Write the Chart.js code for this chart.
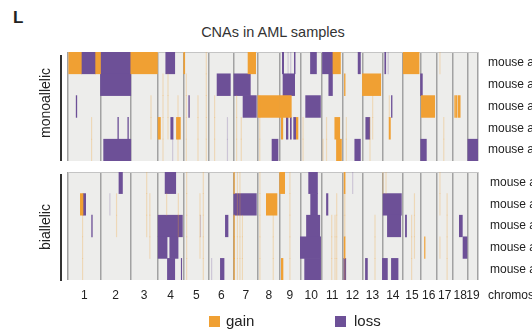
<!DOCTYPE html>
<html>
<head>
<meta charset="utf-8">
<script src="https://cdn.jsdelivr.net/npm/chart.js@4.4.1/dist/chart.umd.min.js"></script>
<style>
  body { margin: 0; width: 532px; height: 333px; overflow: hidden; background: #fff; position: relative;
         font-family: "Liberation Sans", Arial, sans-serif; color: #222; }
  canvas, .txt { position: absolute; }
  .side { width: 120px; height: 18px; line-height: 18px; text-align: center; font-size: 14px; transform: rotate(-90deg); }
  .bracket { position: absolute; left: 60px; width: 1.5px; background: #333; }
  .swatch { position: absolute; width: 11px; height: 11px; }
</style>
</head>
<body>
<div class="txt" style="left:13px;top:8px;font-size:17px;font-weight:bold">L</div>
<div class="txt" style="left:68px;top:24px;width:410px;text-align:center;font-size:14.5px;color:#333">CNAs in AML samples</div>

<canvas id="mono" width="532" height="166" style="left:0;top:0"></canvas>
<canvas id="bi" width="532" height="140" style="left:0;top:166px"></canvas>

<div class="txt side" style="left:-15px;top:94px">monoallelic</div>
<div class="txt side" style="left:-15px;top:218px">biallelic</div>
<div class="bracket" style="top:55px;height:106px"></div>
<div class="bracket" style="top:174px;height:107px"></div>

<div class="txt" style="left:488px;top:288px;font-size:12px">chromosome</div>

<div class="swatch" style="left:209px;top:316px;background:#f0a033"></div>
<div class="txt" style="left:226px;top:312px;font-size:15px">gain</div>
<div class="swatch" style="left:335px;top:316px;background:#6d5097"></div>
<div class="txt" style="left:354px;top:312px;font-size:15px">loss</div>

<script>
// chromosomes and their lengths (Mb)
const chromosomes = ['1','2','3','4','5','6','7','8','9','10','11','12','13','14','15','16','17','18','19'];
const chromLengths = [195,182,160,157,152,150,145,129,125,131,122,120,120,125,104,98,95,91,61];

const monoSamples = ['mouse aml 1','mouse aml 2','mouse aml 3','mouse aml 4','mouse aml 5'];
const biSamples = ['mouse aml 6','mouse aml 7','mouse aml 8','mouse aml 9','mouse aml 10'];

// segments: [sample, chromosome, start Mb, end Mb]
const monoGain = [
  [0,1,0,80],[0,1,166,195],[0,3,0,160],[0,5,1,7],[0,7,85,131],[0,11,65,110],[0,15,0,95],
  [1,12,12,16],[1,13,0,110],
  [2,8,0,129],[2,9,0,71],[2,16,5,85],[2,18,12,17],[2,18,22,25],[2,18,32,45],
  [3,4,4,18],[3,4,114,138],[3,9,11,20],[3,9,101,111],[3,11,76,106],[3,14,40,48],
  [4,11,86,116]
];
const monoLoss = [
  [0,1,80,166],[0,2,0,182],[0,4,50,104],[0,9,17,25],[0,9,89,94],[0,10,61,97],[0,11,2,65],[0,12,94,108],[0,14,14,20],
  [1,2,0,182],[1,6,49,129],[1,7,0,99],[1,9,21,91],[1,11,40,62],[1,16,0,11],
  [2,1,49,53],[2,5,31,35],[2,7,55,135],[2,10,32,121],[2,14,54,58],
  [3,2,104,108],[3,2,164,168],[3,4,80,94],[3,9,41,51],[3,9,65,71],[3,9,85,97],[3,13,20,44],
  [4,2,19,182],[4,8,84,120],[4,12,74,108],[4,16,1,35],[4,19,0,61]
];
const biGain = [
  [0,7,0,3],[0,9,1,31],[0,12,10,16],
  [1,1,74,90],[1,8,50,114],
  [2,7,0,3],
  [3,7,0,3],[3,12,10,16],[3,16,24,27],
  [4,7,0,3],[4,9,11,21]
];
const biLoss = [
  [0,2,111,132],[0,4,46,110],[0,10,50,103],
  [1,1,90,106],[1,7,0,135],[1,10,62,103],[1,11,26,35],[1,14,4,114],
  [2,1,142,146],[2,4,4,150],[2,6,99,115],[2,10,37,117],[2,14,30,110],[2,15,13,20],[2,18,40,58],
  [3,4,4,58],[3,4,74,124],[3,10,0,122],[3,18,62,86],
  [4,4,60,104],[4,4,143,146],[4,6,69,91],[4,10,26,122],[4,12,8,20],[4,13,18,30],[4,14,0,30],[4,14,54,94]
];

// small faint calls: [chromosome, start Mb, end Mb, first sample, last sample]
const monoFaintGain = [
  [1,140,143,3,4],[3,120,123,2,3],[4,32,35,1,4],[4,62,65,1,3],[4,122,125,2,4],[5,15,18,1,4],[5,85,88,2,4],
  [5,135,138,0,4],[6,33,36,2,4],[7,15,18,2,4],[7,43,46,3,4],[8,9,12,2,4],[10,15,18,3,4],[11,4,7,4,4],
  [11,25,28,3,4],[12,22,25,3,4],[13,44,47,3,4],[13,60,63,2,3],[14,40,43,2,2],[17,17,20,0,0],[17,40,43,3,4]
];
const monoFaintLoss = [[4,90,93,4,4],[6,110,113,3,4],[9,50,53,0,0],[9,66,69,0,0],[14,33,36,0,0]];
const biFaintGain = [
  [1,86,89,2,4],[2,95,98,1,2],[3,94,97,0,2],[3,113,116,1,3],[4,54,57,1,1],[4,124,127,1,2],[5,17,20,0,4],
  [5,97,100,1,3],[5,117,120,0,4],[7,20,23,0,4],[7,35,38,0,4],[7,50,53,2,4],[8,10,13,0,4],[8,90,93,2,4],
  [9,61,64,0,4],[11,56,59,2,4],[11,76,79,2,4],[11,86,89,1,4],[12,10,16,1,2],[12,10,16,4,4],[13,74,77,2,4],
  [14,2,5,0,0],[14,20,23,0,0],[15,49,52,2,4],[15,66,69,1,3],[17,17,20,0,1],[17,17,20,3,3],[17,60,63,1,4]
];
const biFaintLoss = [[2,55,58,1,1],[5,100,103,2,2],[6,15,18,4,4],[12,60,63,0,0]];

const GAIN = '#f0a033';
const LOSS = '#6d5097';

// genome coordinates
const chromStart = [];
let genomeLength = 0;
chromLengths.forEach(len => { chromStart.push(genomeLength); genomeLength += len; });
const boundaries = chromStart.concat([genomeLength]);
const centers = chromStart.map((s, i) => s + chromLengths[i] / 2);

const toBars = (segments, samples) => segments.map(([s, chr, a, b]) => ({
  x: [chromStart[chr - 1] + a, chromStart[chr - 1] + b], y: samples[s]
}));
const faintBars = (lines, samples) => lines.flatMap(([chr, a, b, from, to]) => {
  const out = [];
  for (let s = from; s <= to; s++) out.push([s, chr, a, b]);
  return toBars(out, samples);
});

const panelBackground = {
  id: 'panelBackground',
  beforeDraw(chart) {
    const { ctx, chartArea: a } = chart;
    ctx.save();
    ctx.fillStyle = '#ededeb';
    ctx.fillRect(a.left, a.top, a.right - a.left, a.bottom - a.top);
    ctx.restore();
  }
};

const noPadding = axis => {
  axis.paddingTop = 0; axis.paddingBottom = 0;
  axis.paddingLeft = 0; axis.paddingRight = 0;
};

const makePanel = (id, samples, gain, loss, fGain, fLoss, showChrom) => {
  const ds = (data, color) => ({
    data: data, backgroundColor: color, borderWidth: 0,
    grouped: false, barPercentage: 1, categoryPercentage: 1
  });
  return new Chart(document.getElementById(id), {
    type: 'bar',
    data: {
      labels: samples,
      datasets: [
        ds(faintBars(fGain, samples), 'rgba(240,160,51,0.28)'),
        ds(faintBars(fLoss, samples), 'rgba(109,80,151,0.25)'),
        ds(toBars(gain, samples), GAIN),
        ds(toBars(loss, samples), LOSS)
      ]
    },
    options: {
      indexAxis: 'y',
      responsive: false,
      animation: false,
      events: [],
      layout: { padding: showChrom ? { left: 68, top: 6, right: 0, bottom: 0 } : { left: 68, top: 52, right: 0, bottom: 5 } },
      plugins: { legend: { display: false }, tooltip: { enabled: false } },
      scales: {
        x: {
          type: 'linear', min: 0, max: genomeLength, z: 1,
          afterBuildTicks: axis => {
            axis.ticks = boundaries.map(v => ({ value: v })).concat(centers.map(v => ({ value: v })));
          },
          afterFit: axis => { axis.height = showChrom ? 26 : 0; noPadding(axis); },
          border: { display: false },
          grid: {
            drawTicks: false,
            color: ctx => boundaries.includes(ctx.tick.value) ? '#a2a2a2' : 'rgba(0,0,0,0)',
            lineWidth: 1.5
          },
          ticks: {
            display: showChrom, autoSkip: false, maxRotation: 0, padding: 8,
            color: '#222', font: { family: 'Liberation Sans', size: 12 },
            callback: value => {
              const i = centers.indexOf(value);
              return i >= 0 ? chromosomes[i] : '';
            }
          }
        },
        y: {
          type: 'category', position: 'right', offset: true, z: 1,
          afterFit: axis => { axis.width = 54; noPadding(axis); },
          border: { display: false },
          grid: {
            offset: true, drawTicks: false,
            color: ctx => (ctx.index === 0 || ctx.index === samples.length) ? '#c4c4c4' : 'rgba(0,0,0,0)'
          },
          ticks: { padding: showChrom ? 12 : 10, color: '#222', font: { family: 'Liberation Sans', size: 12 } }
        }
      }
    },
    plugins: [panelBackground]
  });
};

makePanel('mono', monoSamples, monoGain, monoLoss, monoFaintGain, monoFaintLoss, false);
makePanel('bi', biSamples, biGain, biLoss, biFaintGain, biFaintLoss, true);
</script>
</body>
</html>
